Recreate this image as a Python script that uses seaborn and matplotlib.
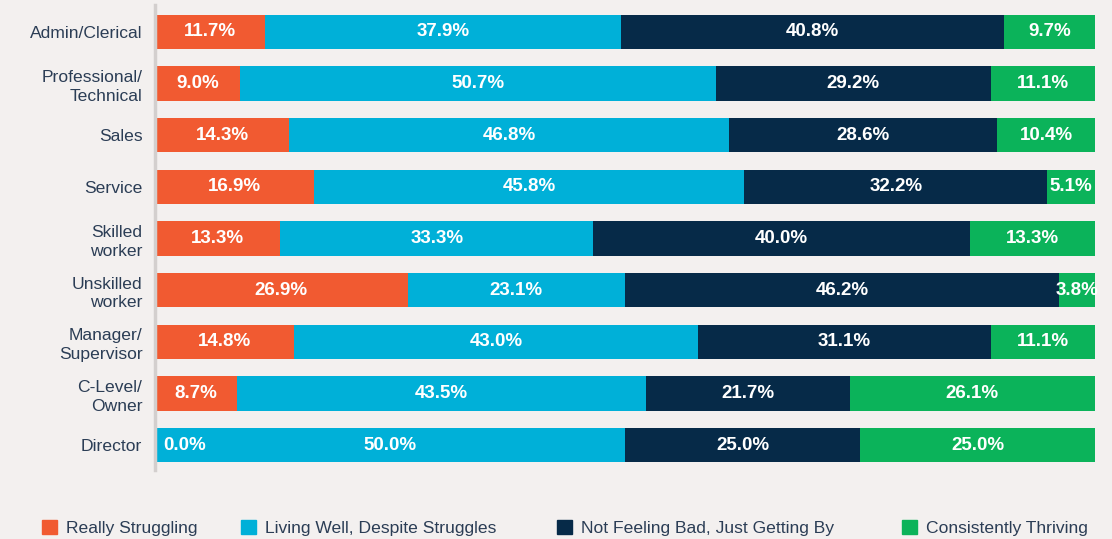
import matplotlib
matplotlib.use("Agg")
import matplotlib.pyplot as plt
import matplotlib.patches as mpatches
import numpy as np
import pandas as pd
import seaborn as sns

# data
roles = ["Admin/Clerical", "Professional/\nTechnical", "Sales", "Service",
         "Skilled\nworker", "Unskilled\nworker", "Manager/\nSupervisor",
         "C-Level/\nOwner", "Director"]
really_struggling = [11.7, 9.0, 14.3, 16.9, 13.3, 26.9, 14.8, 8.7, 0.0]
living_well = [37.9, 50.7, 46.8, 45.8, 33.3, 23.1, 43.0, 43.5, 50.0]
getting_by = [40.8, 29.2, 28.6, 32.2, 40.0, 46.2, 31.1, 21.7, 25.0]
thriving = [9.7, 11.1, 10.4, 5.1, 13.3, 3.8, 11.1, 26.1, 25.0]

series_names = ["Really Struggling", "Living Well, Despite Struggles",
                "Not Feeling Bad, Just Getting By", "Consistently Thriving"]
colors = ["#f15a31", "#00b0d8", "#062a48", "#0bb35a"]
bg = "#f3f0ef"
text_col = "#2b3d55"

vals = np.array([really_struggling, living_well, getting_by, thriving]).T
# rows sum to ~100, stretch each to the full width
shares = vals / vals.sum(axis=1, keepdims=True) * 100
cum = np.cumsum(shares, axis=1)

df = pd.DataFrame(cum, columns=series_names)
df["role"] = roles

plt.rcParams["font.family"] = ["Liberation Sans", "DejaVu Sans"]
fig = plt.figure(figsize=(11.12, 5.39), dpi=100, facecolor=bg)
ax = fig.add_axes([155 / 1112, 69 / 539, 940 / 1112, 465 / 539])
ax.set_facecolor(bg)

# draw cumulative bars from the longest down so each sits on top
for i in range(3, -1, -1):
    sns.barplot(data=df, x=series_names[i], y="role", order=roles,
                color=colors[i], saturation=1, width=0.66, orient="h", ax=ax)

for r in range(len(roles)):
    for i in range(4):
        start = cum[r, i] - shares[r, i]
        if vals[r, i] == 0:
            ax.annotate(f"{vals[r, i]:.1f}%", (start, r), xytext=(6, 0),
                        textcoords="offset points", ha="left", va="center",
                        color="white", fontsize=13.5, fontweight="bold")
        else:
            ax.text(start + shares[r, i] / 2, r, f"{vals[r, i]:.1f}%",
                    ha="center", va="center", color="white",
                    fontsize=13.5, fontweight="bold")

ax.set_xlim(0, 100)
ax.set_ylim(8.48, -0.52)
ax.set_xlabel("")
ax.set_ylabel("")
ax.set_xticks([])
ax.tick_params(axis="y", length=0, pad=9, labelsize=12.6, labelcolor=text_col)
for lab in ax.get_yticklabels():
    lab.set_linespacing(1.3)
for s in ["top", "right", "bottom"]:
    ax.spines[s].set_visible(False)
ax.spines["left"].set_color("#d3cfce")
ax.spines["left"].set_linewidth(2.5)

# legend entries sit at fixed spots along the bottom
legend_x = [42, 241, 557, 902]
for c, n, x in zip(colors, series_names, legend_x):
    leg = fig.legend(handles=[mpatches.Patch(color=c, label=n)], loc="center left",
                     bbox_to_anchor=(x / 1112, 11 / 539), frameon=False, fontsize=12.6,
                     handlelength=0.85, handleheight=0.85, handletextpad=0.5,
                     borderpad=0, borderaxespad=0)
    for t in leg.get_texts():
        t.set_color(text_col)

fig.savefig("out.png", dpi=100, facecolor=bg)
